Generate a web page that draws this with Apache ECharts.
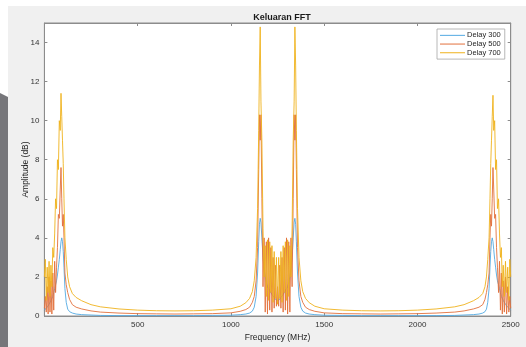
<!DOCTYPE html>
<html><head><meta charset="utf-8">
<script src="https://cdn.jsdelivr.net/npm/echarts@6/dist/echarts.min.js"></script>
<style>html,body{margin:0;padding:0;background:#fff}#c{width:526px;height:347px}</style>
</head><body><div id="c"></div><script>
// Frequency (MHz)
const freq = [
  0,5,10,15,20,25,30,35,40,45,50,55,60,65,70,75,80,85,89,93,97,101,105,110,117,125,135,150,170,200,250,300,
  400,500,600,700,800,900,1000,1050,1080,1100,1115,1125,1135,1143,1149,1153,1157,1161,
  1166,1172,1178,1184,1190,1196,1202,1208,1214,1220,1226,1232,1238,1244,1250,1256,1262,1268,1274,1280,1286,1292,1298,1304,1310,1316,1322,1328,1334,
  1339,1343,1347,1351,1357,1365,1375,1385,1400,1420,1450,1500,1600,1700,1800,1900,2000,2100,2200,
  2250,2300,2330,2350,2362,2370,2377,2384,2389,2393,2397,2401,2405,2409,2414,2419,2424,2429,2435,2440,2445,2450,2455,2460,2466,2472,2478,2484,2490,2495,2500
];
const delay300 = [
  0.3,0.35,0.4,0.45,0.5,0.6,0.7,0.8,0.9,1.0,1.2,1.4,1.6,1.8,2.1,2.5,2.9,3.4,3.8,4.0,3.8,3.3,2.5,1.4,0.7,0.35,0.22,0.15,0.1,0.07,0.05,0.03,
  0.02,0.02,0.02,0.02,0.02,0.03,0.04,0.07,0.1,0.15,0.25,0.45,1.0,2.2,3.8,4.7,5.0,4.8,
  4.0,3.0,2.4,2.0,1.7,1.5,1.4,1.3,1.2,1.1,1.0,0.95,0.85,0.8,0.77,0.8,0.85,0.95,1.0,1.1,1.2,1.3,1.4,1.5,1.7,2.0,2.4,3.0,4.0,
  4.8,5.0,4.7,3.8,2.2,1.0,0.45,0.25,0.15,0.1,0.07,0.04,0.03,0.02,0.02,0.02,0.02,0.02,0.03,
  0.05,0.07,0.1,0.15,0.22,0.35,0.7,1.4,2.5,3.3,3.8,4.0,3.8,3.4,2.9,2.5,2.1,1.8,1.6,1.4,1.2,1.0,0.9,0.8,0.7,0.6,0.5,0.45,0.4,0.35,0.3
];
const delay500 = [
  0.4,1.0,0.2,1.5,0.1,2.0,0.2,1.8,0.1,2.2,0.3,2.8,1.2,2.5,3.5,5.2,5.0,6.5,7.6,6.0,4.6,5.2,4.0,2.2,1.6,1.2,0.85,0.58,0.45,0.36,0.26,0.2,
  0.15,0.12,0.11,0.1,0.11,0.12,0.16,0.24,0.33,0.45,0.7,1.0,1.8,3.5,7.5,10.3,9.0,10.3,
  6.0,1.5,4.0,0.2,3.8,0.1,4.0,0.3,3.5,0.2,3.0,0.4,2.6,0.5,1.5,0.5,2.6,0.4,3.0,0.2,3.5,0.3,4.0,0.1,3.8,0.2,4.0,1.5,6.0,
  10.3,9.0,10.3,7.5,3.5,1.8,1.0,0.7,0.45,0.33,0.24,0.16,0.12,0.11,0.1,0.11,0.12,0.15,0.2,
  0.26,0.36,0.45,0.58,0.85,1.2,1.6,2.2,4.0,5.2,4.6,6.0,7.6,6.5,5.0,5.2,3.5,2.5,1.2,2.8,0.3,2.2,0.1,1.8,0.2,2.0,0.1,1.5,0.2,1.0,0.4
];
const delay700 = [
  2.0,2.9,0.8,2.5,1.2,2.8,1.0,2.6,1.5,3.5,3.0,4.2,6.0,5.5,8.0,7.5,10.0,9.5,11.4,10.2,9.0,7.8,6.0,4.0,2.9,2.0,1.5,1.15,0.95,0.78,0.58,0.47,
  0.36,0.30,0.27,0.26,0.27,0.30,0.37,0.5,0.68,0.9,1.25,1.8,3.0,5.5,9.5,12.8,14.8,11.0,
  9.0,4.5,2.0,3.6,1.0,3.9,0.8,3.8,1.2,3.6,0.7,3.3,0.9,3.0,0.6,3.0,0.9,3.3,0.7,3.6,1.2,3.8,0.8,3.9,1.0,3.6,2.0,4.5,9.0,
  11.0,14.8,12.8,9.5,5.5,3.0,1.8,1.25,0.9,0.68,0.5,0.37,0.30,0.27,0.26,0.27,0.30,0.36,0.47,
  0.58,0.78,0.95,1.15,1.5,2.0,2.9,4.0,6.0,7.8,9.0,10.2,11.3,9.5,10.0,7.5,8.0,5.5,6.0,4.2,3.0,3.5,1.5,2.6,1.0,2.8,1.2,2.5,0.8,2.9,2.0
];
const seriesNames = ['Delay 300','Delay 500','Delay 700'];
const xTicks = [500,1000,1500,2000,2500];
const yTicks = [0,2,4,6,8,10,12,14];
const titleText = 'Keluaran FFT';
const xName = 'Frequency (MHz)';
const yName = 'Amplitude (dB)';

const FONT = '"Liberation Sans", Arial, sans-serif';
const colors = ['#52a9e2','#e2703c','#efb21c'];
const AX = '#8c8c8c';
const pairs = v => freq.map((f,i)=>[f,v[i]]);
const chart = echarts.init(document.getElementById('c'), null, {renderer:'canvas'});
const axCommon = {
  axisLine:{show:true,onZero:false,lineStyle:{color:AX,width:1}},
  axisTick:{show:true,inside:true,length:3,lineStyle:{color:AX,width:1}},
  splitLine:{show:false}
};
chart.setOption({
  animation:false,
  backgroundColor:'#ffffff',
  textStyle:{fontFamily:FONT},
  graphic:[
    {type:'rect',z:-100,shape:{x:8,y:6,width:518,height:341},style:{fill:'#f0f0f0'}},
    {type:'polygon',z:-99,shape:{points:[[0,93],[8,97],[8,347],[0,347]]},style:{fill:'#76767a'}}
  ],
  title:{text:titleText,left:277,top:8,textAlign:'center',textStyle:{fontSize:9,fontWeight:'bold',color:'#1a1a1a',fontFamily:FONT}},
  legend:{
    data:seriesNames,orient:'vertical',left:437,top:29,
    padding:[2,4,2,3],itemGap:0,itemWidth:25,itemHeight:8.7,
    backgroundColor:'#ffffff',borderColor:'#a6a6a6',borderWidth:0.8,
    textStyle:{fontSize:7.5,color:'#262626',fontFamily:FONT,lineHeight:8.7,padding:[0,0,0,-3]},
    icon:'path://M0,0 L25,0 L25,1 L0,1 Z'
  },
  grid:{left:44.4,right:15.3,top:23,bottom:30.3,show:true,backgroundColor:'#ffffff',borderColor:AX,borderWidth:1},
  xAxis:[
    Object.assign({type:'value',min:0,max:2500,interval:500,position:'bottom',
      axisLabel:{fontSize:8,color:'#333',margin:5,fontFamily:FONT,formatter:v=>xTicks.includes(v)?String(v):''},
      name:xName,nameLocation:'middle',nameGap:17,nameMoveOverlap:false,nameTextStyle:{fontSize:8.5,color:'#222',fontFamily:FONT}},axCommon),
    Object.assign({type:'value',min:0,max:2500,interval:500,position:'top',axisLabel:{show:false}},axCommon)
  ],
  yAxis:[
    Object.assign({type:'value',min:0,max:15,interval:2,position:'left',
      axisLabel:{fontSize:8,color:'#333',margin:5,fontFamily:FONT,showMaxLabel:false,formatter:v=>yTicks.includes(v)?String(v):''},
      name:yName,nameLocation:'middle',nameGap:14,nameMoveOverlap:false,nameTextStyle:{fontSize:8.5,color:'#222',fontFamily:FONT}},axCommon),
    Object.assign({type:'value',min:0,max:15,interval:2,position:'right',axisLabel:{show:false}},axCommon)
  ],
  series:[delay300,delay500,delay700].map((v,i)=>({
    name:seriesNames[i],type:'line',data:pairs(v),xAxisIndex:0,yAxisIndex:0,
    symbol:'none',smooth:false,color:colors[i],
    lineStyle:{width:0.9,color:colors[i]}
  }))
});
</script></body></html>
